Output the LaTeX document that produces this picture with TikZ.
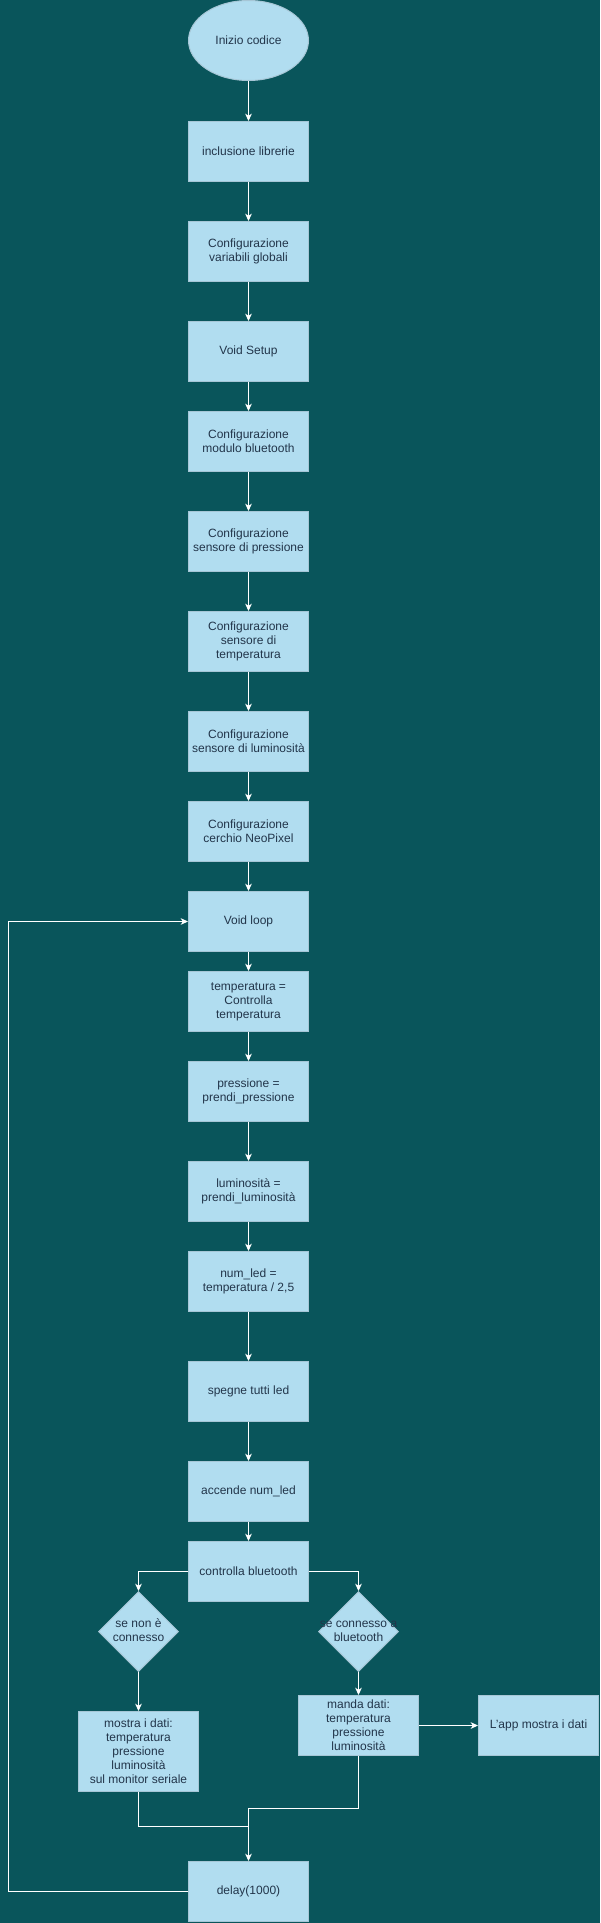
\documentclass[tikz,border=0pt]{standalone}
\usepackage{fontspec}
\setmainfont{Liberation Sans}
\usepackage{tikz}
\usetikzlibrary{arrows.meta,shapes.geometric}

\definecolor{bgteal}{HTML}{09555B}
\definecolor{boxfill}{HTML}{B1DDF0}
\definecolor{boxedge}{HTML}{A6C6D6}
\definecolor{boxtext}{HTML}{22354A}

\begin{document}
\begin{tikzpicture}[
x=0.75pt, y=-0.75pt,
every node/.style={
		font=\fontsize{9}{10.5}\selectfont,
		text=boxtext,
		align=center,
		},
stepbox/.style={
		rectangle,
		fill=boxfill,
		draw=boxedge,
		line width=0.75pt,
		minimum width=90pt,
		minimum height=45pt,
		inner sep=0pt,
		},
startbox/.style={
		ellipse,
		fill=boxfill,
		draw=boxedge,
		line width=0.75pt,
		minimum width=90pt,
		minimum height=60pt,
		inner sep=0pt,
		},
choice/.style={
		diamond,
		fill=boxfill,
		draw=boxedge,
		line width=0.75pt,
		shape aspect=1,
		minimum size=60pt,
		inner sep=0pt,
		},
flow/.style={-{Stealth[length=5.5pt, width=5pt, inset=1.6pt]}, draw=white, line width=0.75pt},
plain/.style={draw=white, line width=0.75pt}
]

\def \cx {248.5}
\def \lx {138.5}
\def \rx {358.5}

% background, fixes the page size too
\fill[bgteal] (0,0) rectangle (600,1923);

% main column
\node[startbox] (start) at (\cx,40.5) {Inizio codice};
\node[stepbox] (libs) at (\cx,151.5) {inclusione librerie};
\node[stepbox] (vars) at (\cx,251.5) {Configurazione\\variabili globali};
\node[stepbox] (setup) at (\cx,351.5) {Void Setup};
\node[stepbox] (btmod) at (\cx,441.5) {Configurazione\\modulo bluetooth};
\node[stepbox] (prsens) at (\cx,541.5) {Configurazione\\sensore di pressione};
\node[stepbox] (tmpsens) at (\cx,641.5) {Configurazione\\sensore di\\temperatura};
\node[stepbox] (lumsens) at (\cx,741.5) {Configurazione\\sensore di luminosità};
\node[stepbox] (neopx) at (\cx,831.5) {Configurazione\\cerchio NeoPixel};
\node[stepbox] (loop) at (\cx,921.5) {Void loop};
\node[stepbox] (tmp) at (\cx,1001.5) {temperatura =\\Controlla\\temperatura};
\node[stepbox] (prs) at (\cx,1091.5) {pressione =\\prendi\_pressione};
\node[stepbox] (lum) at (\cx,1191.5) {luminosità =\\prendi\_luminosità};
\node[stepbox] (numled) at (\cx,1281.5) {num\_led =\\temperatura / 2,5};
\node[stepbox] (spegne) at (\cx,1391.5) {spegne tutti led};
\node[stepbox] (accende) at (\cx,1491.5) {accende num\_led};
\node[stepbox] (ctrlbt) at (\cx,1571.5) {controlla bluetooth};

% the two branches
\node[choice] (nocon) at (\lx,1631.5) {\makebox[0pt]{\begin{tabular}{@{}c@{}}se non è\\connesso\end{tabular}}};
\node[choice] (yescon) at (\rx,1631.5) {\makebox[0pt]{\begin{tabular}{@{}c@{}}se connesso a\\bluetooth\end{tabular}}};
\node[stepbox, minimum height=60pt] (mostra) at (\lx,1751.5) {mostra i dati:\\temperatura\\pressione\\luminosità\\sul monitor seriale};
\node[stepbox] (manda) at (\rx,1725.5) {manda dati:\\temperatura\\pressione\\luminosità};
\node[stepbox] (app) at (538.5,1725.5) {L'app mostra i dati};
\node[stepbox] (delay) at (\cx,1891.5) {delay(1000)};

\coordinate (jn) at (\cx,1808);
\coordinate (jnl) at (\cx,1826);
\coordinate (rail) at (8.5,1891.5);

\foreach \a/\b in {start/libs, libs/vars, vars/setup, setup/btmod, btmod/prsens,
  prsens/tmpsens, tmpsens/lumsens, lumsens/neopx, neopx/loop, loop/tmp, tmp/prs,
  prs/lum, lum/numled, numled/spegne, spegne/accende, accende/ctrlbt}
{
  \draw[flow] (\a) -- (\b);
}

\draw[flow] (ctrlbt.west) -| (nocon.north);
\draw[flow] (ctrlbt.east) -| (yescon.north);
\draw[flow] (nocon) -- (mostra);
\draw[flow] (yescon) -- (manda);
\draw[flow] (manda) -- (app);

\draw[plain] (mostra.south) |- (jnl);
\draw[flow] (manda.south) |- (jn) -- (delay.north);

% back to the loop
\draw[flow] (delay.west) -- (rail) |- (loop.west);
\end{tikzpicture}
\end{document}
